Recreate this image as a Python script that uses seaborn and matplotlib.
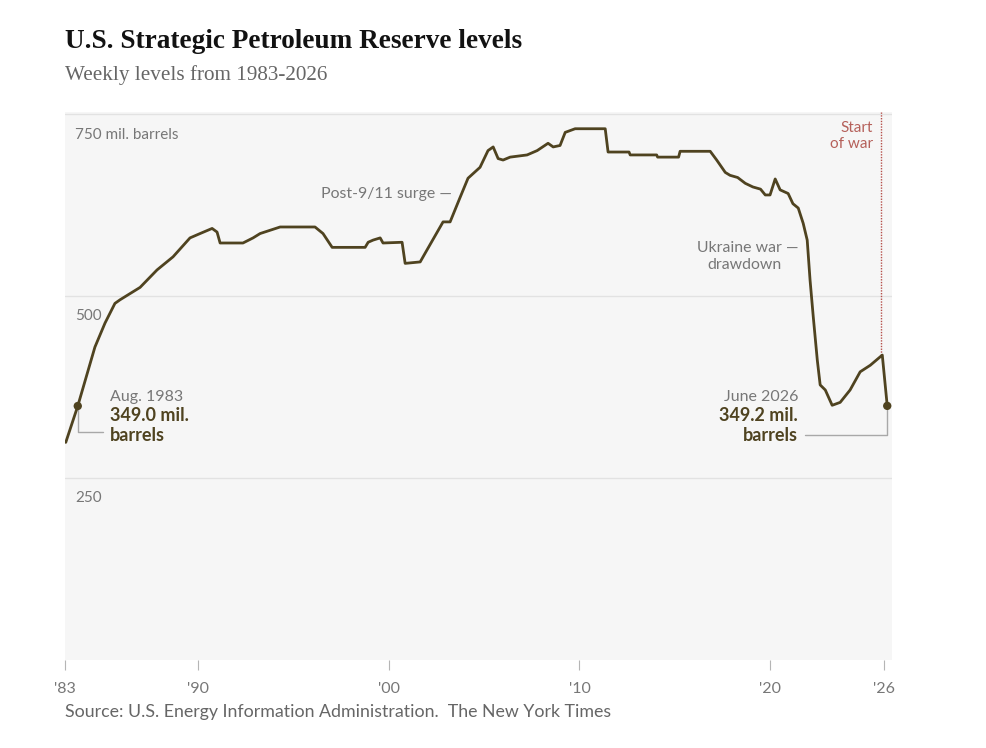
import matplotlib
matplotlib.use("Agg")
import matplotlib.pyplot as plt
import seaborn as sns
import pandas as pd

# ---- data ----
years = [1983.04, 1983.67, 1984.57, 1985.10, 1985.62, 1985.89, 1986.94, 1987.83,
         1988.67, 1989.56, 1990.09, 1990.72, 1990.98, 1991.14, 1992.34, 1992.87,
         1993.24, 1994.29, 1996.12, 1996.54, 1997.02, 1998.75, 1998.91, 1999.17,
         1999.54, 1999.69, 2000.69, 2000.85, 2001.64, 2001.90, 2002.84, 2003.21,
         2003.74, 2004.15, 2004.78, 2005.20, 2005.47, 2005.73, 2005.99, 2006.36,
         2007.25, 2007.78, 2008.35, 2008.62, 2008.98, 2009.25, 2009.77, 2011.35,
         2011.50, 2012.60, 2012.66, 2014.05, 2014.10, 2015.20, 2015.28, 2016.86,
         2017.20, 2017.65, 2017.90, 2018.30, 2018.70, 2019.10, 2019.50, 2019.75,
         2020.00, 2020.27, 2020.53, 2020.95, 2021.20, 2021.48, 2021.74, 2021.95,
         2022.10, 2022.27, 2022.48, 2022.63, 2022.90, 2023.26, 2023.68, 2024.20,
         2024.73, 2025.26, 2025.89, 2026.15]
levels = [299, 349, 430, 463, 490, 495, 512, 536,
          554, 580, 586, 593, 588, 573, 573, 580,
          586, 595, 595, 586, 567, 567, 574, 577,
          580, 573, 574, 545, 547, 559, 602, 602,
          636, 662, 677, 700, 705, 689, 687, 691,
          694, 700, 710, 705, 707, 725, 730, 730,
          698, 698, 694, 694, 691, 691, 699, 699,
          687, 670, 666, 663, 655, 650, 647, 639,
          639, 661, 646, 641, 627, 621, 600, 577,
          522, 471, 412, 378, 371, 350, 354, 371,
          396, 405, 419, 349.2]

tick_years = [1983, 1990, 2000, 2010, 2020, 2026]
tick_labels = ["'83", "'90", "'00", "'10", "'20", "'26"]
grid_values = [250, 500, 750]
grid_labels = ["250", "500", "750 mil. barrels"]
start_point = (1983.67, 349.0)
end_point = (2026.15, 349.2)
war_year = 2025.83

df = pd.DataFrame({"year": years, "level": levels})

LINE = "#4f4320"
GRAY = "#777777"
sns.set_theme(style="white")
plt.rcParams["font.family"] = ["Lato", "DejaVu Sans"]

fig = plt.figure(figsize=(9.86, 7.48), dpi=100)
ax = fig.add_axes([65 / 986, 1 - 660 / 748, 827 / 986, 548 / 748])
ax.set_facecolor("#f6f6f6")

for g in grid_values:
    ax.axhline(g, color="#e2e2e2", lw=1, zorder=1)

sns.lineplot(data=df, x="year", y="level", ax=ax, color=LINE, lw=2.0, zorder=3)

ax.set_xlim(1983.0, 2026.4)
ax.set_ylim(0, 753)
for s in ax.spines.values():
    s.set_visible(False)

ax.set_xticks(tick_years)
ax.set_xticklabels(tick_labels, fontsize=11.5, color=GRAY)
ax.tick_params(axis="x", length=7, width=0.8, color="#b5b5b5", pad=9, bottom=True)
ax.set_yticks([])
ax.set_xlabel("")
ax.set_ylabel("")

for g, lab in zip(grid_values, grid_labels):
    ax.text(1983.52, g - 28, lab, fontsize=11, color=GRAY, va="center", ha="left")

# war line
ax.plot([war_year, war_year], [419, 753], color="#b5504a", lw=1, ls=(0, (1, 1)), zorder=2)
ax.text(2025.41, 720, "Start\nof war", color="#b5605a", fontsize=11,
        ha="right", va="center", linespacing=1.1)

# endpoint markers
ax.scatter([start_point[0], end_point[0]], [start_point[1], end_point[1]],
           s=36, color=LINE, zorder=4, edgecolor="none")

# leader lines
ax.plot([start_point[0], start_point[0], 1985.0], [start_point[1], 313, 313],
        color="#a8a8a8", lw=1, zorder=2)
ax.plot([end_point[0], end_point[0], 2021.85], [end_point[1], 309, 309],
        color="#a8a8a8", lw=1, zorder=2)

ax.text(1985.36, 361, "Aug. 1983", fontsize=11.5, color=GRAY, ha="left", va="center")
ax.text(1985.36, 336.5, "349.0 mil.", fontsize=13, color=LINE, fontweight="bold",
        ha="left", va="center")
ax.text(1985.36, 308, "barrels", fontsize=13, color=LINE, fontweight="bold",
        ha="left", va="center")
ax.text(2021.48, 361, "June 2026", fontsize=11.5, color=GRAY, ha="right", va="center")
ax.text(2021.48, 336.5, "349.2 mil.", fontsize=13, color=LINE, fontweight="bold",
        ha="right", va="center")
ax.text(2021.48, 308, "barrels", fontsize=13, color=LINE, fontweight="bold",
        ha="right", va="center")

ax.text(2003.3, 641, "Post-9/11 surge \u2014", fontsize=11.4, color=GRAY, ha="right", va="center")
ax.text(2021.48, 566, "Ukraine war \u2014", fontsize=11.4, color=GRAY, ha="right", va="center")
ax.text(2018.64, 543, "drawdown", fontsize=11.4, color=GRAY, ha="center", va="center")

fig.text(65 / 986, 1 - 42 / 748, "U.S. Strategic Petroleum Reserve levels",
         family=["Liberation Serif", "DejaVu Serif"], fontweight="bold",
         fontsize=19.6, color="#121212", ha="left", va="center")
fig.text(65 / 986, 1 - 75 / 748, "Weekly levels from 1983-2026",
         family=["Liberation Serif", "DejaVu Serif"], fontsize=15.2,
         color="#666666", ha="left", va="center")
fig.text(65 / 986, 1 - 712 / 748,
         "Source: U.S. Energy Information Administration.  The New York Times",
         fontsize=12.8, color="#666666", ha="left", va="center")

fig.savefig("out.png", dpi=100, facecolor="white")
